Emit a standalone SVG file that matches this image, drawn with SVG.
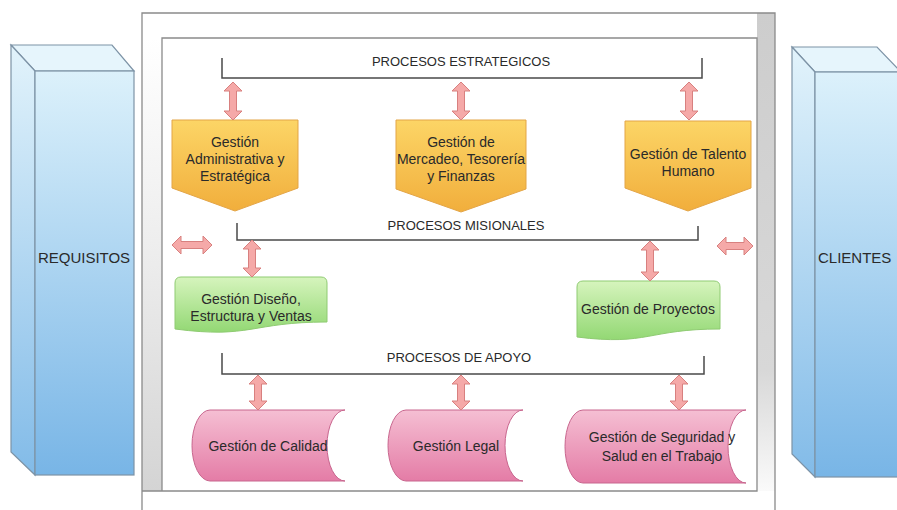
<svg xmlns="http://www.w3.org/2000/svg" width="897" height="510" viewBox="0 0 897 510">
<defs>
  <linearGradient id="gBlue" x1="0" y1="0" x2="0" y2="1">
    <stop offset="0" stop-color="#dcf1fb"/>
    <stop offset="1" stop-color="#78b5e6"/>
  </linearGradient>
  <linearGradient id="gBlueSide" x1="0" y1="0" x2="0" y2="1">
    <stop offset="0" stop-color="#e2f3fb"/>
    <stop offset="1" stop-color="#82bbe8"/>
  </linearGradient>
  <linearGradient id="gOrange" x1="0" y1="0" x2="0" y2="1">
    <stop offset="0" stop-color="#fcd566"/>
    <stop offset="1" stop-color="#f1ae3c"/>
  </linearGradient>
  <linearGradient id="gGreen" x1="0" y1="0" x2="0" y2="1">
    <stop offset="0" stop-color="#d6f4bd"/>
    <stop offset="1" stop-color="#93d874"/>
  </linearGradient>
  <linearGradient id="gPink" x1="0" y1="0" x2="0" y2="1">
    <stop offset="0" stop-color="#f5bfd3"/>
    <stop offset="1" stop-color="#e47ca6"/>
  </linearGradient>
  <linearGradient id="gRightBar" x1="0" y1="0" x2="0" y2="1">
    <stop offset="0" stop-color="#cdcdcd"/>
    <stop offset="0.75" stop-color="#d8d8d8"/>
    <stop offset="1" stop-color="#fafafa"/>
  </linearGradient>
  <linearGradient id="gLeftBar" x1="0" y1="0" x2="0" y2="1">
    <stop offset="0" stop-color="#ffffff"/>
    <stop offset="0.5" stop-color="#ececec"/>
    <stop offset="1" stop-color="#d4d4d4"/>
  </linearGradient>
  <style>
    .frame{fill:none;stroke:#8a8a8a;stroke-width:1.3}
    .prism{stroke:#7d93a6;stroke-width:1.2}
    .orange{fill:url(#gOrange);stroke:#e3a547;stroke-width:1}
    .green{fill:url(#gGreen);stroke:#8fcb72;stroke-width:1}
    .pink{fill:url(#gPink);stroke:#c8668e;stroke-width:1}
    .arr{fill:#f5a9a8;stroke:#d8807f;stroke-width:1}
    .bracket{fill:none;stroke:#4a4a4a;stroke-width:1.5}
    text{font-family:"Liberation Sans",Arial,sans-serif;fill:#2a2a2a;text-anchor:middle}
    .lbl{font-size:13px}
    .box{font-size:14px}
    .big{font-size:15px}
  </style>
</defs>
<rect width="897" height="510" fill="#ffffff"/>

<!-- frame -->
<g id="frame">
  <rect x="757" y="13" width="18" height="478" fill="url(#gRightBar)"/>
  <rect x="142" y="38" width="20" height="453" fill="url(#gLeftBar)"/>
  <path class="frame" d="M142,510 V13 H775 V510"/>
  <path class="frame" d="M142,491 H757 V38 H162 V491"/>
</g>

<!-- left prism -->
<g id="requisitos">
  <polygon class="prism" fill="#e6f5fc" points="11,45 112,45 134,71 35,71"/>
  <polygon class="prism" fill="url(#gBlueSide)" points="11,45 35,71 35,475 11,452"/>
  <rect class="prism" x="35" y="71" width="99" height="404" fill="url(#gBlue)"/>
  <text class="big" x="84" y="263">REQUISITOS</text>
</g>

<!-- right prism -->
<g id="clientes">
  <polygon class="prism" fill="#e6f5fc" points="792,47 877,47 901,72 815,72"/>
  <polygon class="prism" fill="url(#gBlueSide)" points="792,47 815,72 815,477 792,454"/>
  <rect class="prism" x="815" y="72" width="90" height="405" fill="url(#gBlue)"/>
  <text class="big" x="818" y="263" style="text-anchor:start">CLIENTES</text>
</g>

<!-- group brackets -->
<g id="procesos-estrategicos">
  <path class="bracket" d="M222,58 V78 H702 V58"/>
  <text class="lbl" x="461" y="66">PROCESOS ESTRATEGICOS</text>
</g>
<g id="procesos-misionales">
  <path class="bracket" d="M237,223 V240 H698 V226"/>
  <text class="lbl" x="466" y="230">PROCESOS MISIONALES</text>
</g>
<g id="procesos-apoyo">
  <path class="bracket" d="M222,353 V374 H704 V356"/>
  <text class="lbl" x="459" y="362">PROCESOS DE APOYO</text>
</g>

<!-- strategic nodes -->
<g id="gestion-administrativa">
  <path class="orange" d="M172,120 H298 V188 L235,211 L172,188 Z"/>
  <text class="box" x="235" y="147">Gestión</text>
  <text class="box" x="235" y="164">Administrativa y</text>
  <text class="box" x="235" y="181">Estratégica</text>
</g>
<g id="gestion-mercadeo">
  <path class="orange" d="M396,120 H526 V189 L461,212 L396,189 Z"/>
  <text class="box" x="461" y="147">Gestión de</text>
  <text class="box" x="461" y="164">Mercadeo, Tesorería</text>
  <text class="box" x="461" y="181">y Finanzas</text>
</g>
<g id="gestion-talento">
  <path class="orange" d="M625,121 H751 V188 L688,211 L625,188 Z"/>
  <text class="box" x="688" y="159">Gestión de Talento</text>
  <text class="box" x="688" y="176">Humano</text>
</g>

<!-- missional nodes -->
<g id="gestion-diseno">
  <path class="green" d="M175,283 Q175,277 181,277 H321 Q327,277 327,283 V322 C251,322 251,339 175,329 Z"/>
  <text class="box" x="251" y="304">Gestión Diseño,</text>
  <text class="box" x="251" y="321">Estructura y Ventas</text>
</g>
<g id="gestion-proyectos">
  <path class="green" d="M577,287 Q577,281 583,281 H714 Q720,281 720,287 V329 C648,329 648,346 577,337 Z"/>
  <text class="box" x="648" y="314">Gestión de Proyectos</text>
</g>

<!-- support nodes -->
<g id="gestion-calidad">
  <path class="pink" d="M210,410 H345 A18,35.5 0 0 0 345,481 H210 A18,35.5 0 0 1 210,410 Z"/>
  <text class="box" x="268" y="451">Gestión de Calidad</text>
</g>
<g id="gestion-legal">
  <path class="pink" d="M406,410 H523 A18,35.5 0 0 0 523,481 H406 A18,35.5 0 0 1 406,410 Z"/>
  <text class="box" x="456" y="451">Gestión Legal</text>
</g>
<g id="gestion-seguridad">
  <path class="pink" d="M583,410 H746 A18,36.5 0 0 0 746,483 H583 A18,36.5 0 0 1 583,410 Z"/>
  <text class="box" x="662" y="442">Gestión de Seguridad y</text>
  <text class="box" x="662" y="461">Salud en el Trabajo</text>
</g>

<!-- connectors -->
<g id="connectors">
  <path class="arr" d="M233,82 L242,91 L236.5,91 L236.5,111 L242,111 L233,120 L224,111 L229.5,111 L229.5,91 L224,91 Z"/>
  <path class="arr" d="M461,82 L470,91 L464.5,91 L464.5,111 L470,111 L461,120 L452,111 L457.5,111 L457.5,91 L452,91 Z"/>
  <path class="arr" d="M689,82 L698,91 L692.5,91 L692.5,111 L698,111 L689,120 L680,111 L685.5,111 L685.5,91 L680,91 Z"/>
  <path class="arr" d="M252,240 L261,249 L255.5,249 L255.5,268 L261,268 L252,277 L243,268 L248.5,268 L248.5,249 L243,249 Z"/>
  <path class="arr" d="M650,241 L659,250 L653.5,250 L653.5,272 L659,272 L650,281 L641,272 L646.5,272 L646.5,250 L641,250 Z"/>
  <path class="arr" d="M258,375 L267,384 L261.5,384 L261.5,401 L267,401 L258,410 L249,401 L254.5,401 L254.5,384 L249,384 Z"/>
  <path class="arr" d="M461,375 L470,384 L464.5,384 L464.5,401 L470,401 L461,410 L452,401 L457.5,401 L457.5,384 L452,384 Z"/>
  <path class="arr" d="M679,375 L688,384 L682.5,384 L682.5,401 L688,401 L679,410 L670,401 L675.5,401 L675.5,384 L670,384 Z"/>
  <path class="arr" d="M172,245 L181,236 L181,241.5 L203,241.5 L203,236 L212,245 L203,254 L203,248.5 L181,248.5 L181,254 Z"/>
  <path class="arr" d="M717,246 L726,237 L726,242.5 L744,242.5 L744,237 L753,246 L744,255 L744,249.5 L726,249.5 L726,255 Z"/>
</g>
</svg>
